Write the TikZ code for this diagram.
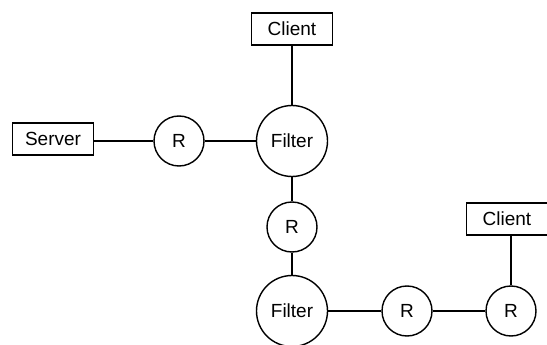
\documentclass[tikz,border=0pt]{standalone}
\usepackage{fontspec}
\setmainfont{Liberation Sans}
\begin{document}
\begin{tikzpicture}[x=1pt,y=-1pt,
  every node/.style={font=\fontsize{19}{21}\selectfont, inner sep=0pt},
  hostbox/.style={draw, line width=1.4pt, minimum width=81pt, minimum height=32pt},
  relay/.style={draw, circle, line width=1.4pt, minimum size=50pt},
  filterbox/.style={draw, circle, line width=1.4pt, minimum size=71pt},
  link/.style={line width=2.9pt}]
  \useasboundingbox (0,0) rectangle (547,345);
  % hosts
  \node[hostbox] (ct) at (292,29) {Client};
  \node[hostbox] (sv) at (53,139) {Server};
  \node[hostbox] (cr) at (507,219) {Client};
  % filters and relays
  \node[filterbox] (f1) at (292,141) {Filter};
  \node[relay] (r1) at (179,141) {R};
  \node[relay] (r2) at (292,227) {R};
  \node[filterbox] (f2) at (292,311) {Filter};
  \node[relay] (r3) at (407,311) {R};
  \node[relay] (r4) at (511,311) {R};
  % links
  \draw[link] (ct) -- (f1);
  \draw[link] (sv.east |- r1) -- (r1);
  \draw[link] (r1) -- (f1);
  \draw[link] (f1) -- (r2);
  \draw[link] (r2) -- (f2);
  \draw[link] (f2) -- (r3);
  \draw[link] (r3) -- (r4);
  \draw[link] (cr.south -| r4) -- (r4);
\end{tikzpicture}
\end{document}
